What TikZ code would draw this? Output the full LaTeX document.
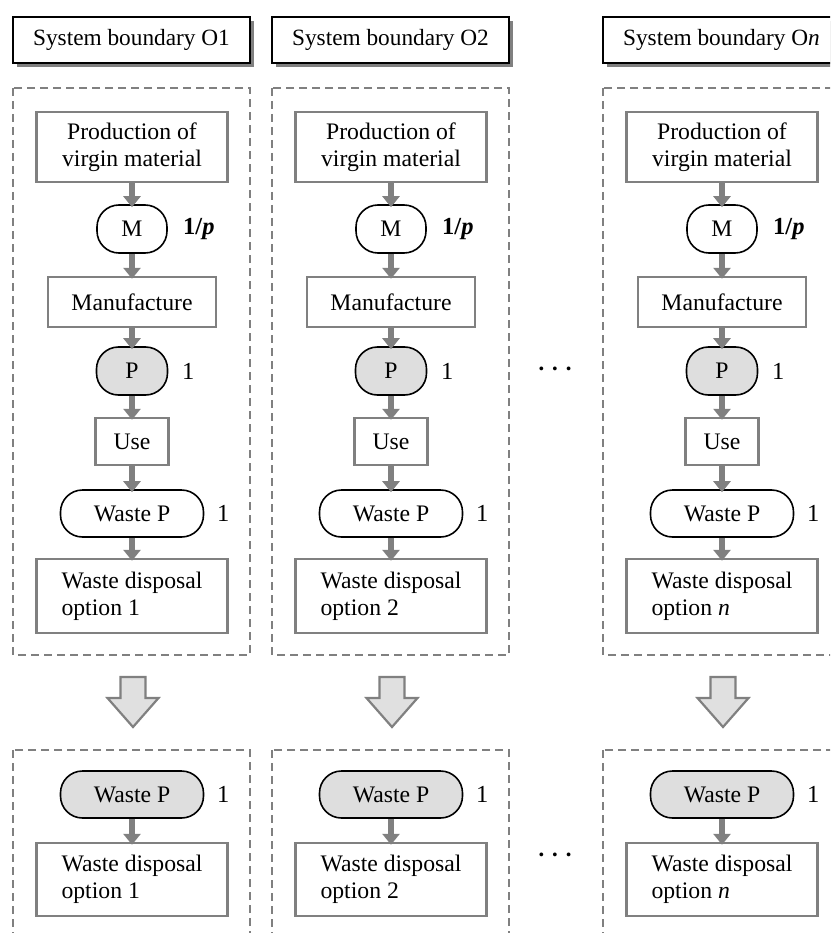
\documentclass[tikz,border=0pt]{standalone}
\usepackage{fontspec}
\setmainfont{Liberation Serif}
\usetikzlibrary{arrows.meta,shadows}

\definecolor{boxgray}{HTML}{808080}

\tikzset{
  hdrbox/.style={draw=black, line width=1.6pt, fill=white, inner sep=0pt,
    minimum width=237pt, minimum height=46pt, font=\fontsize{23.3}{27}\selectfont,
    drop shadow={shadow xshift=4pt, shadow yshift=-4pt, fill=black!50, opacity=1}},
  procbox/.style={draw=boxgray, line width=2.4pt, fill=white, inner sep=0pt,
    font=\fontsize{23.7}{27}\selectfont},
  flowitem/.style={draw=black, line width=1.6pt, fill=white, rounded corners=22pt,
    inner sep=0pt, minimum height=48pt, font=\fontsize{23.7}{27}\selectfont},
  flowshaded/.style={flowitem, fill=black!13},
  amount/.style={anchor=west, inner sep=0pt, font=\fontsize{24.5}{27}\selectfont},
  gapdots/.style={inner sep=0pt, font=\fontsize{32}{32}\selectfont},
  flow/.style={draw=boxgray, line width=6pt, -{Triangle[width=17pt,length=11pt]}, shorten >=-3pt},
  boundary/.style={draw=boxgray, line width=2.2pt, dash pattern=on 8pt off 5pt},
  bigarrow/.style={draw=boxgray, line width=2.2pt, fill=black!12, line join=miter}
}

\begin{document}
\begin{tikzpicture}[x=1pt, y=-1pt]
  \useasboundingbox (0,0) rectangle (830,933);
  \clip (0,0) rectangle (830,933);

  \foreach \c/\xs/\opt in {1/0/1, 2/259/2, 3/590/\textit{n}} {
    \begin{scope}[xshift=\xs pt]
      \node[hdrbox] (hdr\c) at (131.5,40) {System boundary O\opt};

      % upper system boundary
      \draw[boundary] (13,88) rectangle (250,655);
      \node[procbox, minimum width=191pt, minimum height=70pt, align=center] (prod\c) at (132,147)
        {Production of\\virgin material};
      \node[flowitem, minimum width=70pt] (mat\c) at (132,229) {M};
      \node[procbox, minimum width=168pt, minimum height=50pt] (manu\c) at (132,302) {Manufacture};
      \node[flowshaded, minimum width=71pt] (item\c) at (132,371) {P};
      \node[procbox, minimum width=73pt, minimum height=47pt] (use\c) at (132,441.5) {Use};
      \node[flowitem, minimum width=143pt, minimum height=47pt] (waste\c) at (132,513.5) {Waste P};
      \node[procbox, minimum width=191pt, minimum height=74pt, align=left] (disp\c) at (132,596)
        {Waste disposal\\option \opt};

      \node[amount] (matq\c) at (183,229) {\textbf{1/\textit{p}}};
      \node[amount] (itemq\c) at (182,371) {1};
      \node[amount] (wasteq\c) at (217,513.5) {1};

      \draw[flow] (prod\c) -- (mat\c);
      \draw[flow] (mat\c) -- (manu\c);
      \draw[flow] (manu\c) -- (item\c);
      \draw[flow] (item\c) -- (use\c);
      \draw[flow] (use\c) -- (waste\c);
      \draw[flow] (waste\c) -- (disp\c);

      % reduced system
      \draw[bigarrow] (120.5,677) -- (145.5,677) -- (145.5,698) -- (158.5,698)
        -- (133,727) -- (107.5,698) -- (120.5,698) -- cycle;

      \draw[boundary] (13,750) rectangle (250,960);
      \node[flowshaded, minimum width=143pt, minimum height=47pt] (lwaste\c) at (132,794.5) {Waste P};
      \node[procbox, minimum width=191pt, minimum height=73pt, align=left] (ldisp\c) at (132,879.5)
        {Waste disposal\\option \opt};
      \node[amount] (lwasteq\c) at (217,794.5) {1};
      \draw[flow] (lwaste\c) -- (ldisp\c);
    \end{scope}
  }

  \node[gapdots] (gapA) at (555,373) {·\hspace{3pt}·\hspace{3pt}·};
  \node[gapdots] (gapB) at (555,859) {·\hspace{3pt}·\hspace{3pt}·};
\end{tikzpicture}
\end{document}
